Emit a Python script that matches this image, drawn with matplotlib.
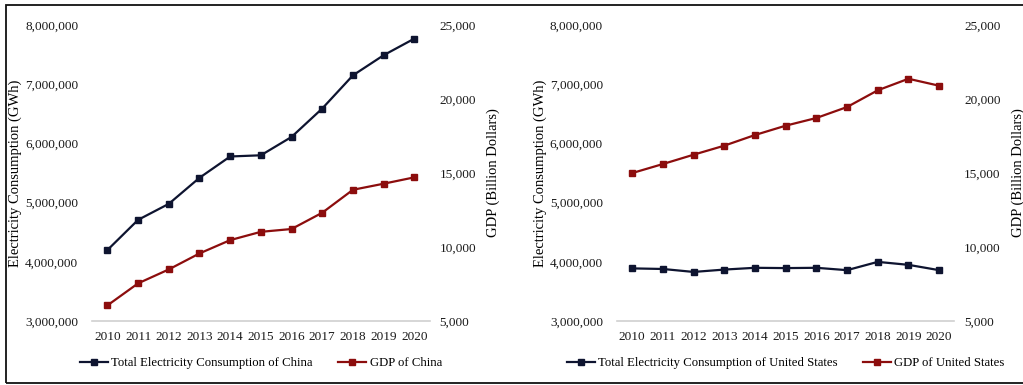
import matplotlib.pyplot as plt
from matplotlib.patches import Rectangle
from matplotlib.ticker import FuncFormatter

years = ["2010", "2011", "2012", "2013", "2014", "2015", "2016", "2017", "2018", "2019", "2020"]

# electricity consumption, GWh
china_elec = [4200000, 4710000, 4980000, 5420000, 5780000, 5800000, 6110000, 6590000, 7150000, 7490000, 7770000]
us_elec = [3890000, 3880000, 3830000, 3870000, 3900000, 3895000, 3900000, 3860000, 4000000, 3950000, 3860000]

# GDP, billion dollars
china_gdp = [6060, 7550, 8490, 9570, 10470, 11030, 11220, 12320, 13870, 14280, 14710]
us_gdp = [15000, 15610, 16240, 16850, 17570, 18200, 18720, 19460, 20590, 21370, 20900]

plt.rcParams['font.family'] = ['Liberation Serif', 'DejaVu Serif']

c_elec = '#0e1430'
c_gdp = '#8c0d0d'

fig = plt.figure(figsize=(10.23, 3.85), dpi=100)

# outer frame
fig.patches.append(Rectangle((6 / 1023, 2 / 385), 1.1, 378 / 385, transform=fig.transFigure,
                             fill=False, edgecolor='#111111', linewidth=1.3))

fmt = FuncFormatter(lambda v, p: f"{int(v):,}")


def panel(left, elec, gdp, name):
    ax = fig.add_axes([left, 0.166, 0.330, 0.769])
    ax2 = ax.twinx()
    x = range(len(years))
    l1, = ax.plot(x, elec, color=c_elec, marker='s', markersize=5, linewidth=1.6,
                  label=f"Total Electricity Consumption of {name}")
    l2, = ax2.plot(x, gdp, color=c_gdp, marker='s', markersize=5, linewidth=1.6,
                   label=f"GDP of {name}")
    ax.set_xlim(-0.5, len(years) - 0.5)
    ax.set_ylim(3000000, 8000000)
    ax2.set_ylim(5000, 25000)
    ax.set_yticks(range(3000000, 8000001, 1000000))
    ax2.set_yticks(range(5000, 25001, 5000))
    ax.yaxis.set_major_formatter(fmt)
    ax2.yaxis.set_major_formatter(fmt)
    ax.set_xticks(list(x))
    ax.set_xticklabels(years)
    for a in (ax, ax2):
        for s in a.spines.values():
            s.set_visible(False)
        a.tick_params(length=0, labelsize=9.5, colors='#1a1a1a')
    ax.spines['bottom'].set_visible(True)
    ax.spines['bottom'].set_color('#d0d0d0')
    ax.spines['bottom'].set_linewidth(1.2)
    ax.tick_params(axis='y', pad=10)
    ax2.tick_params(axis='y', pad=7)
    ax.tick_params(axis='x', pad=7)
    ax.set_ylabel("Electricity Consumption (GWh)", fontsize=10.5)
    ax2.set_ylabel("GDP (Billion Dollars)", fontsize=10.5)
    ax.yaxis.set_label_coords(-0.207, 0.5)
    ax2.yaxis.set_label_coords(1.168, 0.5)
    ax.legend(handles=[l1, l2], loc='center', bbox_to_anchor=(0.5, -0.142), ncol=2,
              frameon=False, fontsize=9.2, handlelength=2.2, handletextpad=0.25,
              columnspacing=2.0, markerscale=0.9)
    return ax


panel(0.090, china_elec, china_gdp, "China")
panel(0.603, us_elec, us_gdp, "United States")

fig.savefig("out.png", dpi=100)
